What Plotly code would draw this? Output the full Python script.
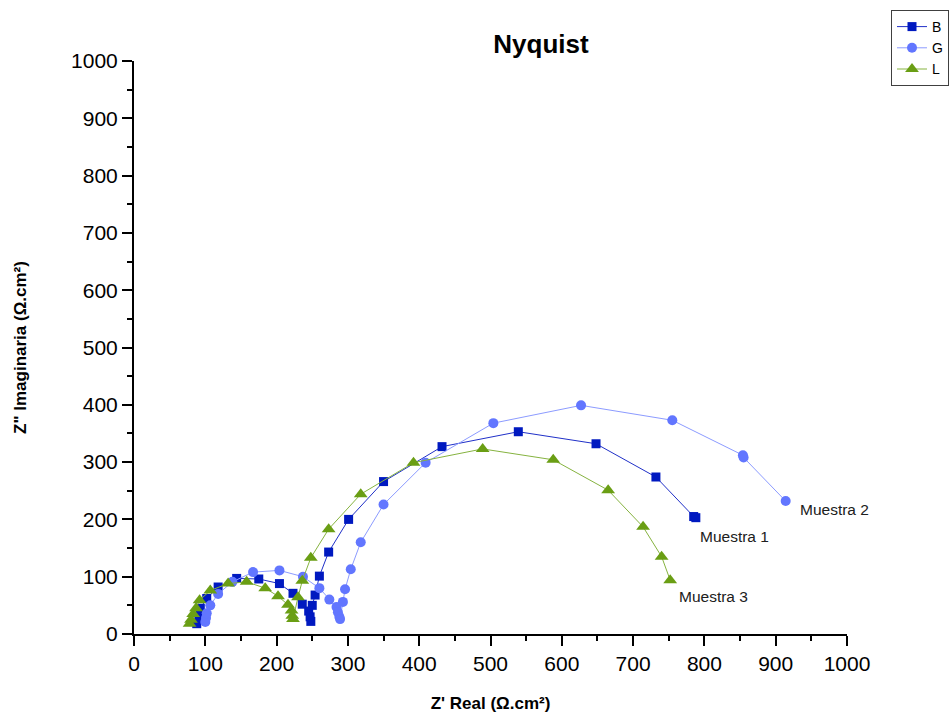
import plotly.graph_objects as go

# Nyquist data: Z' (real) and Z'' (imaginary), ohm.cm^2
b_real = [88, 91, 93, 102, 118, 144, 175, 204, 223, 236, 245, 247, 248,
          250, 254, 260, 273, 301, 350, 432, 539, 648, 732, 785, 788]
b_imag = [18, 31, 45, 62, 82, 97, 96, 88, 71, 52, 40, 30, 22,
          50, 68, 101, 143, 200, 266, 327, 353, 332, 274, 205, 203]

g_real = [100, 101, 102, 107, 118, 138, 167, 204, 237, 260, 274, 284, 286,
          288, 289, 293, 296, 304, 318, 350, 409, 504, 627, 755, 854, 855, 914]
g_imag = [21, 28, 36, 50, 70, 91, 108, 111, 100, 80, 60, 47, 38,
          30, 26, 56, 78, 113, 160, 226, 299, 368, 399, 373, 312, 308, 232]

l_real = [78, 80, 83, 87, 92, 107, 132, 158, 184, 202, 216, 221, 222,
          223, 230, 236, 248, 273, 318, 392, 489, 588, 665, 714, 740, 752]
l_imag = [18, 25, 35, 45, 59, 76, 88, 91, 80, 66, 51, 41, 32,
          26, 64, 93, 133, 183, 244, 299, 323, 304, 251, 187, 135, 94]

series_names = ["B", "G", "L"]
sample_labels = ["Muestra 1", "Muestra 2", "Muestra 3"]
label_pos = [(791, 171), (931, 218), (761, 65)]

FONT = "Arial, Liberation Sans, sans-serif"

fig = go.Figure()
fig.add_trace(go.Scatter(
    x=b_real, y=b_imag, name=series_names[0], mode="lines+markers",
    line=dict(color="#2030C8", width=1),
    marker=dict(symbol="square", size=9, color="#0019C0"),
))
fig.add_trace(go.Scatter(
    x=g_real, y=g_imag, name=series_names[1], mode="lines+markers",
    line=dict(color="#8C9BFF", width=1),
    marker=dict(symbol="circle", size=10, color="#6276FF"),
))
fig.add_trace(go.Scatter(
    x=l_real, y=l_imag, name=series_names[2], mode="lines+markers",
    line=dict(color="#86B340", width=1),
    marker=dict(symbol="triangle-up", size=12, color="#6A9E14"),
))

for text, (lx, ly) in zip(sample_labels, label_pos):
    fig.add_annotation(x=lx, y=ly, xref="x", yref="y", text=text,
                       showarrow=False, xanchor="left", yanchor="middle",
                       font=dict(family=FONT, size=15.5, color="#202020"))

axis_common = dict(
    range=[0, 1000], dtick=100, showgrid=False, zeroline=False,
    showline=True, linecolor="black", linewidth=2,
    ticks="outside", ticklen=10, tickwidth=2, tickcolor="black",
    tickfont=dict(family=FONT, size=21, color="black"),
    minor=dict(ticks="outside", ticklen=5, tickwidth=2, tickcolor="black", dtick=50),
    automargin=False,
)

fig.update_xaxes(**axis_common,
                 title=dict(text="<b>Z' Real (Ω.cm²)</b>", standoff=23,
                            font=dict(family=FONT, size=17, color="black")))
fig.update_yaxes(**axis_common,
                 title=dict(text="<b>Z\" Imaginaria (Ω.cm²)</b>", standoff=40,
                            font=dict(family=FONT, size=17, color="black")))

fig.update_layout(
    width=951, height=715,
    margin=dict(l=134, r=104, t=61, b=81, autoexpand=False),
    paper_bgcolor="white", plot_bgcolor="white",
    title=dict(text="<b>Nyquist</b>", x=541 / 951, xref="container", xanchor="center",
               y=1 - 44 / 715, yanchor="middle",
               font=dict(family=FONT, size=26, color="black")),
    legend=dict(xref="container", yref="container",
                x=891 / 951, y=1 - 10 / 715, xanchor="left", yanchor="top",
                bordercolor="#404040", borderwidth=1, bgcolor="white",
                font=dict(family=FONT, size=14, color="black"),
                itemwidth=30, tracegroupgap=0),
    showlegend=True,
)

fig.write_html("out.html")
